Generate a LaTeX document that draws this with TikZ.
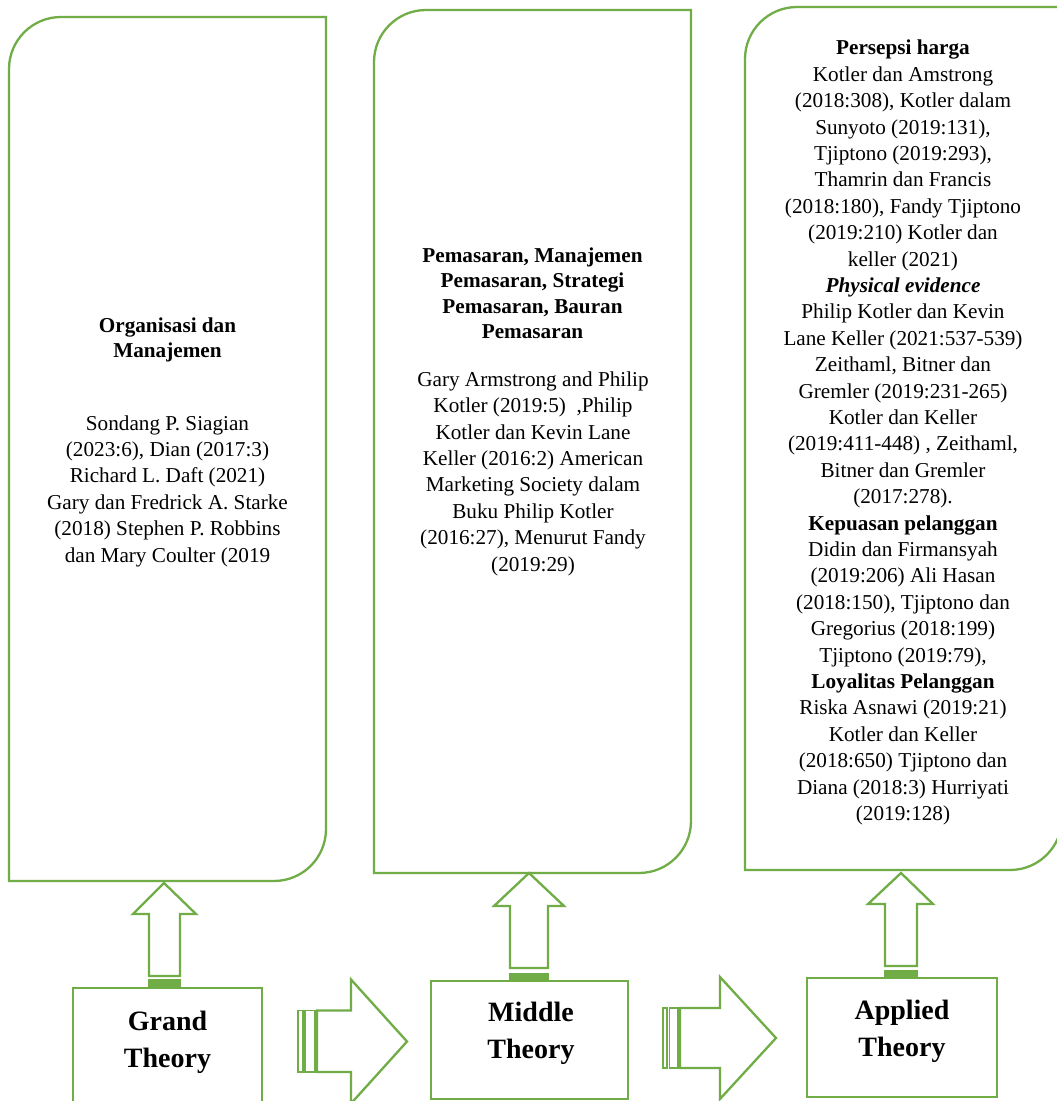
\documentclass[tikz,border=0pt]{standalone}
\usepackage{fontspec}
\setmainfont{Liberation Serif}
\definecolor{grn}{HTML}{70AD47}
\tikzset{
  gline/.style={draw=grn, line width=2.3pt, line join=miter},
  sline/.style={draw=grn, line width=1.5pt},
  bodytxt/.style={font=\fontsize{21.2}{26.4}\selectfont, align=center, inner sep=0pt, anchor=base},
  ttltxt/.style={font=\fontsize{21.2}{25.5}\selectfont\bfseries, align=center, inner sep=0pt, anchor=base},
  theorytxt/.style={font=\fontsize{28}{37}\selectfont\bfseries, align=center, inner sep=0pt, anchor=base},
}
\newcommand\diagbox[5]{%
  \draw[gline] (#1,#2+#5) .. controls (#1,#2+0.4477*#5) and (#1+0.4477*#5,#2) .. (#1+#5,#2)
    -- (#3,#2) -- (#3,#4-#5) .. controls (#3,#4-0.4477*#5) and (#3-0.4477*#5,#4) .. (#3-#5,#4)
    -- (#1,#4) -- cycle;}
\begin{document}
\begin{tikzpicture}[x=1pt,y=-1pt]
\useasboundingbox (0,0) rectangle (1057,1101);
\clip (0,0) rectangle (1057,1101);
\fill[white] (0,0) rectangle (1057,1101);

% big boxes
\diagbox{9}{17}{326}{881}{52}
\diagbox{374}{10}{691}{873}{52}
\diagbox{745}{7}{1062}{870}{52}

% texts box 1 (anchor = baseline of last line)
\node[ttltxt] (t1) at (167.5,357.5) {Organisasi dan\\Manajemen};
\node[bodytxt] (b1) at (167.5,562) {Sondang P. Siagian\\(2023:6), Dian (2017:3)\\Richard L. Daft (2021)\\Gary dan Fredrick A. Starke\\(2018) Stephen P. Robbins\\dan Mary Coulter (2019};

% texts box 2
\node[ttltxt] (t2) at (532.5,338.5) {Pemasaran, Manajemen\\Pemasaran, Strategi\\Pemasaran, Bauran\\Pemasaran};
\node[bodytxt] (b2) at (533,571) {Gary Armstrong and Philip\\Kotler (2019:5)\ \ ,Philip\\Kotler dan Kevin Lane\\Keller (2016:2) American\\Marketing Society dalam\\Buku Philip Kotler\\(2016:27), Menurut Fandy\\(2019:29)};

% texts box 3
\node[bodytxt] (b3) at (903,820.5) {\textbf{Persepsi harga}\\Kotler dan Amstrong\\(2018:308), Kotler dalam\\Sunyoto (2019:131),\\Tjiptono (2019:293),\\Thamrin dan Francis\\(2018:180), Fandy Tjiptono\\(2019:210) Kotler dan\\keller (2021)\\\textbf{\textit{Physical evidence}}\\Philip Kotler dan Kevin\\Lane Keller (2021:537-539)\\Zeithaml, Bitner dan\\Gremler (2019:231-265)\\Kotler dan Keller\\(2019:411-448) , Zeithaml,\\Bitner dan Gremler\\(2017:278).\\\textbf{Kepuasan pelanggan}\\Didin dan Firmansyah\\(2019:206) Ali Hasan\\(2018:150), Tjiptono dan\\Gregorius (2018:199)\\Tjiptono (2019:79),\\\textbf{Loyalitas Pelanggan}\\Riska Asnawi (2019:21)\\Kotler dan Keller\\(2018:650) Tjiptono dan\\Diana (2018:3) Hurriyati\\(2019:128)};

% theory boxes
\draw[gline] (73,988) rectangle (262,1112);
\draw[gline] (431,981) rectangle (628,1099);
\draw[gline] (807,978) rectangle (997,1097);
\node[theorytxt] (grand) at (167.5,1067) {Grand\\Theory};
\node[theorytxt] (middle) at (531,1058) {Middle\\Theory};
\node[theorytxt] (applied) at (902,1056) {Applied\\Theory};

% up arrows
\draw[gline] (164,883) -- (196,914) -- (180,914) -- (180,976) -- (149,976) -- (149,914) -- (133,914) -- cycle;
\fill[grn] (148,979) rectangle (181,988);
\draw[gline] (529,873) -- (564,906) -- (548,906) -- (548,968) -- (510,968) -- (510,906) -- (494,906) -- cycle;
\fill[grn] (509,973) rectangle (549,981);
\draw[gline] (901,873) -- (933,904) -- (917,904) -- (917,966) -- (885,966) -- (885,904) -- (868,904) -- cycle;
\fill[grn] (884,970) rectangle (918,978);

% right arrows
\draw[gline] (407,1041.5) -- (351,979.5) -- (351,1010.5) -- (317,1010.5) -- (317,1072) -- (351,1072) -- (351,1103.5) -- cycle;
\draw[sline] (298,1010.5) rectangle (303,1072);
\draw[sline] (305,1010.5) rectangle (315,1072);
\draw[gline] (776,1038) -- (720,977) -- (720,1008) -- (680,1008) -- (680,1068) -- (720,1068) -- (720,1099) -- cycle;
\draw[sline] (663,1008) rectangle (667,1068);
\draw[sline] (669.5,1008) rectangle (678,1068);
\end{tikzpicture}
\end{document}
